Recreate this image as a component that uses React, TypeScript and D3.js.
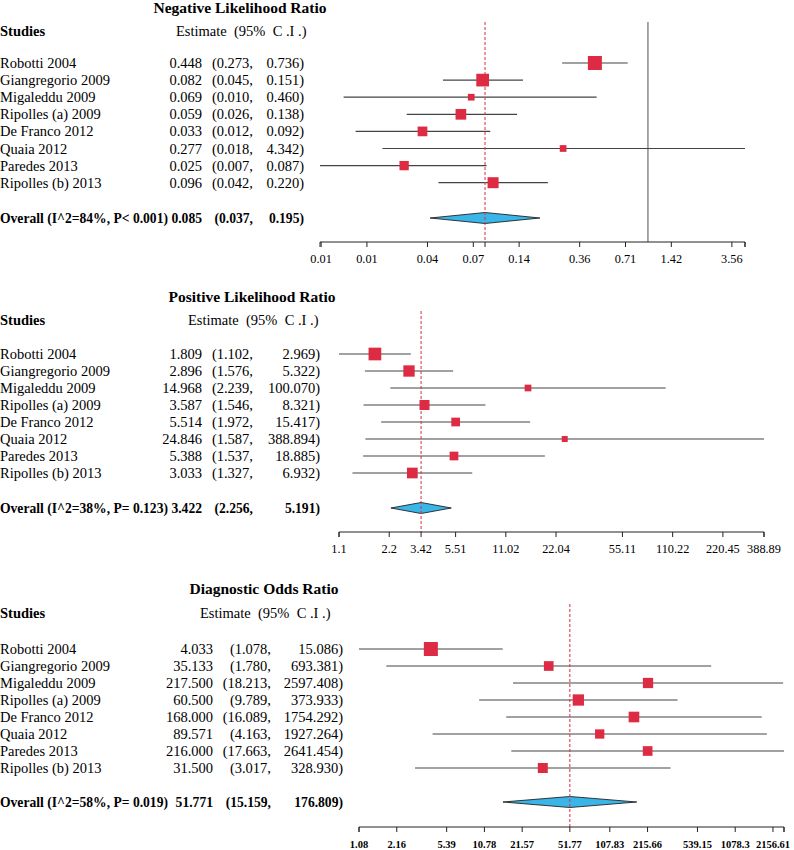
import React from "react";
import * as d3 from "d3";

const studies = [
  "Robotti 2004",
  "Giangregorio 2009",
  "Migaleddu 2009",
  "Ripolles (a) 2009",
  "De Franco 2012",
  "Quaia 2012",
  "Paredes 2013",
  "Ripolles (b) 2013",
];

// negative likelihood ratio
const nlrEst = [0.448, 0.082, 0.069, 0.059, 0.033, 0.277, 0.025, 0.096];
const nlrLo = [0.273, 0.045, 0.01, 0.026, 0.012, 0.018, 0.007, 0.042];
const nlrHi = [0.736, 0.151, 0.46, 0.138, 0.092, 4.342, 0.087, 0.22];
const nlrWeight = [22.7, 18.7, 5.2, 13.2, 10.9, 5.2, 10.0, 14.0];
const nlrPooled = [0.085, 0.037, 0.195];
const nlrHet = "Overall (I^2=84%, P< 0.001)";
const nlrTicks = [0.00712, 0.01424, 0.0356, 0.0712, 0.085, 0.1424, 0.356, 0.712, 1.424, 3.56, 4.342];
const nlrTickLabels = ["0.01", "0.01", "0.04", "0.07", "", "0.14", "0.36", "0.71", "1.42", "3.56", ""];

// positive likelihood ratio
const plrEst = [1.809, 2.896, 14.968, 3.587, 5.514, 24.846, 5.388, 3.033];
const plrLo = [1.102, 1.576, 2.239, 1.546, 1.972, 1.587, 1.537, 1.327];
const plrHi = [2.969, 5.322, 100.07, 8.321, 15.417, 388.894, 18.885, 6.932];
const plrWeight = [21.9, 17.4, 6.1, 13.6, 10.3, 4.9, 10.3, 15.5];
const plrPooled = [3.422, 2.256, 5.191];
const plrHet = "Overall (I^2=38%, P= 0.123)";
const plrTicks = [1.102, 2.204, 3.422, 5.51, 11.02, 22.04, 55.11, 110.22, 220.45, 388.894];
const plrTickLabels = ["1.1", "2.2", "3.42", "5.51", "11.02", "22.04", "55.11", "110.22", "220.45", "388.89"];

// diagnostic odds ratio
const dorEst = [4.033, 35.133, 217.5, 60.5, 168.0, 89.571, 216.0, 31.5];
const dorLo = [1.078, 1.78, 18.213, 9.789, 16.089, 4.163, 17.663, 3.017];
const dorHi = [15.086, 693.381, 2597.408, 373.933, 1754.292, 1927.264, 2641.454, 328.93];
const dorWeight = [21.4, 10.2, 11.5, 13.9, 12.4, 9.4, 10.2, 10.9];
const dorPooled = [51.771, 15.159, 176.809];
const dorHet = "Overall (I^2=58%, P= 0.019)";
const dorTicks = [1.0783, 2.1566, 5.3915, 10.783, 21.566, 51.771, 107.83, 215.66, 539.15, 1078.3, 2156.61, 2641.454];
const dorTickLabels = ["1.08", "2.16", "5.39", "10.78", "21.57", "51.77", "107.83", "215.66", "539.15", "1078.3", "2156.61", ""];

const FONT = "'Liberation Serif', 'Times New Roman', serif";
const RED = "#DC2B43";
const BLUE = "#3AB5E8";
const fmt = d3.format(".3f");

const panels = [
  {
    title: "Negative Likelihood Ratio",
    est: nlrEst, lo: nlrLo, hi: nlrHi, w: nlrWeight, pooled: nlrPooled, het: nlrHet,
    ticks: nlrTicks, tickLabels: nlrTickLabels,
    titleX: 240, titleY: 8, headerY: 31, row0: 63, step: 17.1, overallY: 218, axisY: 242,
    plotLeft: 320, estRight: 202, loRight: 253, hiRight: 304, headerX: 176,
    tickSize: 12.3, tickBold: false, maxBox: 14,
  },
  {
    title: "Positive Likelihood Ratio",
    est: plrEst, lo: plrLo, hi: plrHi, w: plrWeight, pooled: plrPooled, het: plrHet,
    ticks: plrTicks, tickLabels: plrTickLabels,
    titleX: 252, titleY: 297, headerY: 320, row0: 354, step: 17, overallY: 508, axisY: 532,
    plotLeft: 339, estRight: 202, loRight: 253, hiRight: 320, headerX: 188,
    tickSize: 12.3, tickBold: false, maxBox: 12.7,
  },
  {
    title: "Diagnostic Odds Ratio",
    est: dorEst, lo: dorLo, hi: dorHi, w: dorWeight, pooled: dorPooled, het: dorHet,
    ticks: dorTicks, tickLabels: dorTickLabels,
    titleX: 264, titleY: 589, headerY: 613, row0: 649, step: 17, overallY: 802, axisY: 827,
    plotLeft: 359, estRight: 213, loRight: 271, hiRight: 343, headerX: 200,
    tickSize: 10.5, tickBold: true, maxBox: 14,
  },
];

const PLOT_W = 425;

function Forest({ p }: { p: any }) {
  const x = d3
    .scaleLog()
    .domain([d3.min(p.lo) as number, d3.max(p.hi) as number])
    .range([p.plotLeft, p.plotLeft + PLOT_W]);
  const size = d3.scaleSqrt().domain([0, d3.max(p.w) as number]).range([0, p.maxBox]);
  const y = (i: number) => p.row0 + i * p.step;
  const [pe, pl, ph] = p.pooled;
  const lineTop = p.headerY - 9;
  const dh = 5.5;
  const dom = x.domain();

  return (
    <g fontFamily={FONT}>
      <text x={p.titleX} y={p.titleY} dy="0.35em" textAnchor="middle" fontSize={15.5} fontWeight="bold">
        {p.title}
      </text>
      <text x={0} y={p.headerY} dy="0.35em" fontSize={14.5} fontWeight="bold">Studies</text>
      <text x={p.headerX} y={p.headerY} dy="0.35em" fontSize={14.5} style={{ whiteSpace: "pre" }}>
        {"Estimate  (95%  C .I .)"}
      </text>

      {/* table text */}
      {studies.map((s, i) => (
        <g key={s} fontSize={14.5}>
          <text x={0} y={y(i)} dy="0.35em">{s}</text>
          <text x={p.estRight} y={y(i)} dy="0.35em" textAnchor="end">{fmt(p.est[i])}</text>
          <text x={p.loRight} y={y(i)} dy="0.35em" textAnchor="end">{"(" + fmt(p.lo[i]) + ","}</text>
          <text x={p.hiRight} y={y(i)} dy="0.35em" textAnchor="end">{fmt(p.hi[i]) + ")"}</text>
        </g>
      ))}
      <g fontSize={13.6} fontWeight="bold">
        <text x={0} y={p.overallY} dy="0.35em">{p.het}</text>
        <text x={p.estRight} y={p.overallY} dy="0.35em" textAnchor="end">{fmt(pe)}</text>
        <text x={p.loRight} y={p.overallY} dy="0.35em" textAnchor="end">{"(" + fmt(pl) + ","}</text>
        <text x={p.hiRight} y={p.overallY} dy="0.35em" textAnchor="end">{fmt(ph) + ")"}</text>
      </g>

      {/* null line */}
      {dom[0] < 1 && dom[1] > 1 && (
        <line x1={x(1)} x2={x(1)} y1={lineTop} y2={p.axisY} stroke="#777" strokeWidth={1.3} />
      )}

      {/* CI lines and boxes */}
      {studies.map((s, i) => {
        const b = size(p.w[i]);
        return (
          <g key={s}>
            <line x1={x(p.lo[i])} x2={x(p.hi[i])} y1={y(i)} y2={y(i)} stroke="#444" strokeWidth={1.2} />
            <rect x={x(p.est[i]) - b / 2} y={y(i) - b / 2} width={b} height={b} fill={RED} />
          </g>
        );
      })}

      {/* pooled diamond */}
      <path
        d={`M${x(pl)},${p.overallY}L${x(pe)},${p.overallY - dh}L${x(ph)},${p.overallY}L${x(pe)},${p.overallY + dh}Z`}
        fill={BLUE}
        stroke="#222"
        strokeWidth={0.9}
      />
      <line x1={x(pe)} x2={x(pe)} y1={lineTop} y2={p.axisY} stroke={RED} strokeWidth={1} strokeDasharray="3,2" />

      {/* axis */}
      <line x1={x(dom[0])} x2={x(dom[1])} y1={p.axisY} y2={p.axisY} stroke="#222" strokeWidth={1} />
      {p.ticks.map((t: number, i: number) => (
        <g key={i}>
          <line x1={x(t)} x2={x(t)} y1={p.axisY} y2={p.axisY + 5} stroke="#222" strokeWidth={1} />
          <text
            x={x(t)}
            y={p.axisY + 17}
            dy="0.35em"
            textAnchor="middle"
            fontSize={p.tickSize}
            fontWeight={p.tickBold ? "bold" : "normal"}
          >
            {p.tickLabels[i]}
          </text>
        </g>
      ))}
      <line x1={x(dom[0])} x2={x(dom[0])} y1={p.axisY} y2={p.axisY + 5} stroke="#222" />
      <line x1={x(dom[1])} x2={x(dom[1])} y1={p.axisY} y2={p.axisY + 5} stroke="#222" />
    </g>
  );
}

export default function App() {
  return (
    <div style={{ position: "absolute", left: 0, top: 0 }}>
      <svg width={794} height={850} style={{ display: "block", background: "#fff" }}>
        {panels.map((p) => (
          <Forest key={p.title} p={p} />
        ))}
      </svg>
    </div>
  );
}
